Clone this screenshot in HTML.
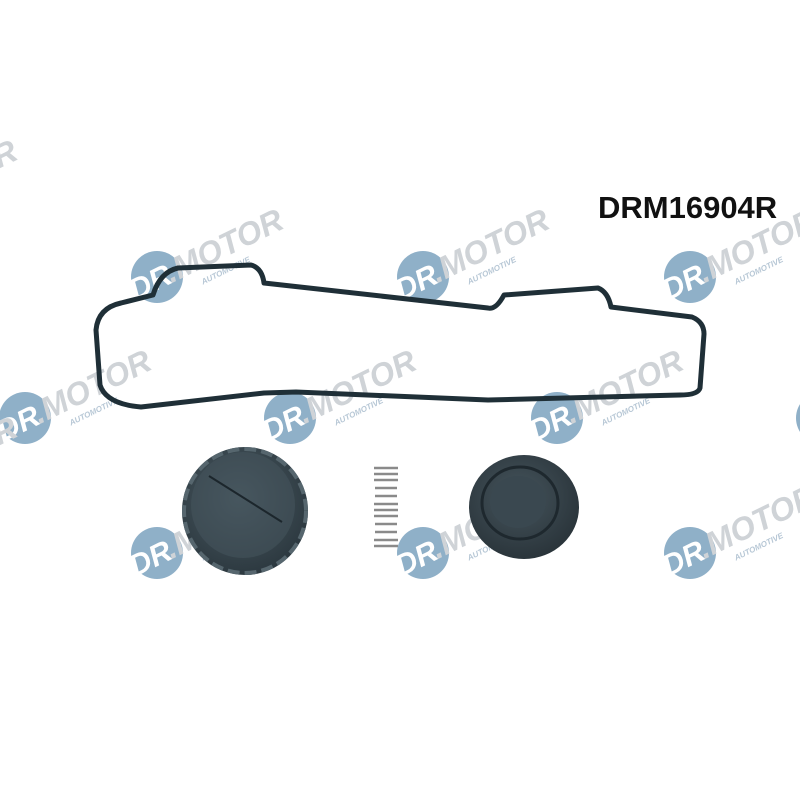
<!DOCTYPE html>
<html><head><meta charset="utf-8"><style>
html,body{margin:0;padding:0;background:#fff;}
svg{display:block}
</style></head><body>
<svg width="800" height="800" viewBox="0 0 800 800" xmlns="http://www.w3.org/2000/svg">
<defs>
<radialGradient id="cap" cx="45%" cy="40%" r="65%"><stop offset="0" stop-color="#4b5b63"/><stop offset="1" stop-color="#2a363d"/></radialGradient>
<radialGradient id="dia" cx="45%" cy="40%" r="65%"><stop offset="0" stop-color="#46555d"/><stop offset="1" stop-color="#283238"/></radialGradient>
</defs>
<rect width="800" height="800" fill="#fff"/>
<text x="598" y="218" font-family="Liberation Sans, sans-serif" font-weight="bold" font-size="31" fill="#111">DRM16904R</text>

<g font-family="Liberation Sans, sans-serif" font-weight="bold" font-style="italic">
<g transform="translate(157,277)"><circle r="26" fill="#8fb0c8"/><g transform="rotate(-26)"><text x="-30" y="12" font-size="30" fill="#fff">DR</text><text x="10" y="12" font-size="32" fill="#cfd3d7">.MOTOR</text><text x="38" y="27" font-size="8" fill="#b8c8d6">AUTOMOTIVE</text></g></g>
<g transform="translate(423,277)"><circle r="26" fill="#8fb0c8"/><g transform="rotate(-26)"><text x="-30" y="12" font-size="30" fill="#fff">DR</text><text x="10" y="12" font-size="32" fill="#cfd3d7">.MOTOR</text><text x="38" y="27" font-size="8" fill="#b8c8d6">AUTOMOTIVE</text></g></g>
<g transform="translate(690,277)"><circle r="26" fill="#8fb0c8"/><g transform="rotate(-26)"><text x="-30" y="12" font-size="30" fill="#fff">DR</text><text x="10" y="12" font-size="32" fill="#cfd3d7">.MOTOR</text><text x="38" y="27" font-size="8" fill="#b8c8d6">AUTOMOTIVE</text></g></g>
<g transform="translate(-109,208)"><g transform="rotate(-26)"><text x="10" y="12" font-size="32" fill="#cfd3d7">.MOTOR</text><text x="38" y="27" font-size="8" fill="#b8c8d6">AUTOMOTIVE</text></g></g>
<g transform="translate(25,418)"><circle r="26" fill="#8fb0c8"/><g transform="rotate(-26)"><text x="-30" y="12" font-size="30" fill="#fff">DR</text><text x="10" y="12" font-size="32" fill="#cfd3d7">.MOTOR</text><text x="38" y="27" font-size="8" fill="#b8c8d6">AUTOMOTIVE</text></g></g>
<g transform="translate(290,418)"><circle r="26" fill="#8fb0c8"/><g transform="rotate(-26)"><text x="-30" y="12" font-size="30" fill="#fff">DR</text><text x="10" y="12" font-size="32" fill="#cfd3d7">.MOTOR</text><text x="38" y="27" font-size="8" fill="#b8c8d6">AUTOMOTIVE</text></g></g>
<g transform="translate(557,418)"><circle r="26" fill="#8fb0c8"/><g transform="rotate(-26)"><text x="-30" y="12" font-size="30" fill="#fff">DR</text><text x="10" y="12" font-size="32" fill="#cfd3d7">.MOTOR</text><text x="38" y="27" font-size="8" fill="#b8c8d6">AUTOMOTIVE</text></g></g>
<g transform="translate(822,418)"><circle r="26" fill="#8fb0c8"/></g>
<g transform="translate(-109,485)"><g transform="rotate(-26)"><text x="10" y="12" font-size="32" fill="#cfd3d7">.MOTOR</text><text x="38" y="27" font-size="8" fill="#b8c8d6">AUTOMOTIVE</text></g></g>
<g transform="translate(157,553)"><circle r="26" fill="#8fb0c8"/><g transform="rotate(-26)"><text x="-30" y="12" font-size="30" fill="#fff">DR</text><text x="10" y="12" font-size="32" fill="#cfd3d7">.MOTOR</text><text x="38" y="27" font-size="8" fill="#b8c8d6">AUTOMOTIVE</text></g></g>
<g transform="translate(423,553)"><circle r="26" fill="#8fb0c8"/><g transform="rotate(-26)"><text x="-30" y="12" font-size="30" fill="#fff">DR</text><text x="10" y="12" font-size="32" fill="#cfd3d7">.MOTOR</text><text x="38" y="27" font-size="8" fill="#b8c8d6">AUTOMOTIVE</text></g></g>
<g transform="translate(690,553)"><circle r="26" fill="#8fb0c8"/><g transform="rotate(-26)"><text x="-30" y="12" font-size="30" fill="#fff">DR</text><text x="10" y="12" font-size="32" fill="#cfd3d7">.MOTOR</text><text x="38" y="27" font-size="8" fill="#b8c8d6">AUTOMOTIVE</text></g></g>
</g>

<path d="M96,330 Q98,308 121,303 L153,295 Q160,272 178,268 L251,265 Q262,268 264,283 L488,308 Q496,310 504,295 L598,288 Q608,292 611,307 L692,317 Q704,322 704,334 L700,388 Q698,395 680,395 L488,400 L296,392 L264,393 L141,407 Q106,404 100,385 Z" fill="none" stroke="#1f2f37" stroke-width="5" stroke-linejoin="round"/>

<ellipse cx="245" cy="511" rx="63" ry="64" fill="url(#cap)"/>
<ellipse cx="245" cy="511" rx="61" ry="62" fill="none" stroke="#56666e" stroke-width="4" stroke-dasharray="12 5"/>
<ellipse cx="243" cy="505" rx="52" ry="53" fill="#44535b" opacity="0.6"/>
<line x1="209" y1="476" x2="282" y2="522" stroke="#1c262c" stroke-width="2"/>

<g stroke="#8a8a8a" stroke-width="2.5" fill="none">
<path d="M374,468 h24 M374,474 h24 M374,480 h24 M375,488 h22 M375,496 h22 M374,504 h24 M374,510 h24 M374,516 h24 M375,524 h22 M375,532 h22 M374,540 h24 M374,546 h24"/>
</g>

<ellipse cx="524" cy="507" rx="55" ry="52" fill="url(#dia)"/>
<ellipse cx="520" cy="503" rx="38" ry="36" fill="none" stroke="#1e282e" stroke-width="3"/>
<ellipse cx="518" cy="502" rx="28" ry="26" fill="#3a4850"/>
</svg>
</body></html>
